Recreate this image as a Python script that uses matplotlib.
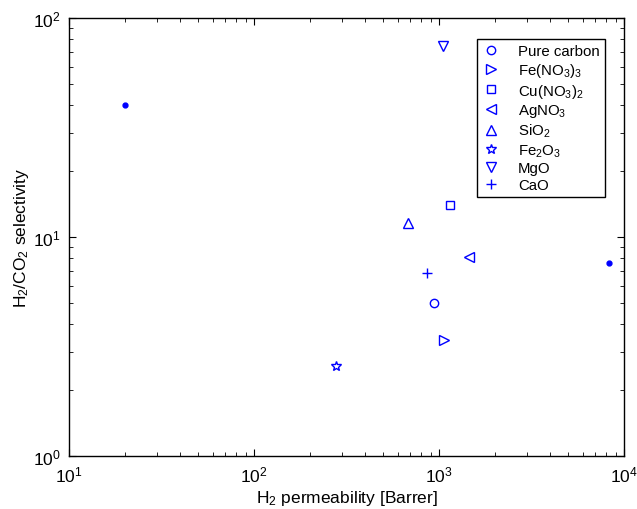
import matplotlib
matplotlib.use("Agg")
import matplotlib.pyplot as plt

plt.rcParams["font.family"] = ["Liberation Sans", "DejaVu Sans"]
plt.rcParams["mathtext.default"] = "regular"

# labelled materials
labels = ["Pure carbon", r"Fe(NO$_3$)$_3$", r"Cu(NO$_3$)$_2$", r"AgNO$_3$",
          r"SiO$_2$", r"Fe$_2$O$_3$", "MgO", "CaO"]
perm = [940, 1060, 1150, 1460, 680, 277, 1050, 860]
selectivity = [5.0, 3.4, 14.0, 8.1, 11.6, 2.58, 74.5, 6.85]

# unlabelled reference points
ref_perm = [20, 8300]
ref_sel = [40, 7.6]

markers = ["o", ">", "s", "<", "^", "*", "v", "+"]
sizes = [6, 7, 5.5, 7, 7, 7.5, 7, 7]

fig = plt.figure(figsize=(6.37, 5.10), dpi=100)
ax = fig.add_axes([0.1083, 0.1039, 0.8713, 0.8588])

for lab, x, y, m, ms in zip(labels, perm, selectivity, markers, sizes):
    ax.plot(x, y, linestyle="none", marker=m, markersize=ms,
            markerfacecolor="none", markeredgecolor="blue", markeredgewidth=1.0,
            label=lab)

ax.plot(ref_perm, ref_sel, linestyle="none", marker="o", markersize=3.5,
        color="blue")

ax.set_xscale("log")
ax.set_yscale("log")
ax.set_xlim(10, 1e4)
ax.set_ylim(1, 100)

ax.tick_params(which="both", direction="in", top=True, right=True, labelsize=12.5)
ax.tick_params(which="major", length=5, pad=6)
ax.tick_params(which="minor", length=3)
for s in ax.spines.values():
    s.set_linewidth(1.0)

ax.set_xlabel(r"H$_2$ permeability [Barrer]", fontsize=12.5, labelpad=3)
ax.set_ylabel(r"H$_2$/CO$_2$ selectivity", fontsize=12.5, labelpad=1)

leg = ax.legend(loc="upper right", bbox_to_anchor=(0.966, 0.952), fontsize=10.8,
                fancybox=False, edgecolor="black", framealpha=1,
                labelspacing=0.18, handlelength=1.2, handletextpad=1.2,
                borderpad=0.35, borderaxespad=0)
leg.get_frame().set_linewidth(1.0)

fig.savefig("out.png", dpi=100)
